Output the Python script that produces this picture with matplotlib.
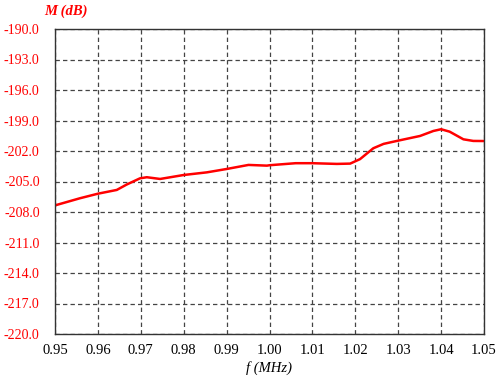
import numpy as np
import matplotlib
matplotlib.use('Agg')
import matplotlib.pyplot as plt

# values
freq = [0.9500, 0.9558, 0.9600, 0.9644, 0.9667, 0.9698, 0.9714, 0.9745, 0.9800,
        0.9854, 0.9900, 0.9951, 0.9994, 1.0000, 1.0061, 1.0100, 1.0157, 1.0188,
        1.0211, 1.0242, 1.0266, 1.0300, 1.0351, 1.0382, 1.0400, 1.0420, 1.0452,
        1.0475, 1.0500]
mag = [-207.35, -206.65, -206.2, -205.83, -205.3, -204.69, -204.58, -204.75, -204.36,
       -204.1, -203.77, -203.37, -203.44, -203.4, -203.2, -203.2, -203.27, -203.24,
       -202.8, -201.73, -201.3, -200.98, -200.52, -200.03, -199.86, -200.1, -200.85,
       -201.01, -201.02]

xticks = [0.95, 0.96, 0.97, 0.98, 0.99, 1.00, 1.01, 1.02, 1.03, 1.04, 1.05]
yticks = np.arange(-220, -189, 3)

plt.rcParams['font.family'] = ['Liberation Serif', 'DejaVu Serif']

fig = plt.figure(figsize=(5, 3.8), dpi=100)
ax = fig.add_axes([55/500, 1 - 334/380, 429/500, 305/380])

ax.plot(freq, mag, color='#ff0000', lw=1.8, solid_joinstyle='round',
        solid_capstyle='round')

ax.set_xlim(0.95, 1.05)
ax.set_ylim(-220, -190)
ax.set_xticks(xticks)
ax.set_xticklabels([f"{v:.2f}" for v in xticks], fontsize=10.5)
ax.set_yticks(yticks)
ax.set_yticklabels([f"{v:.1f}" for v in yticks], fontsize=10, color='#ff0000')
ax.tick_params(axis='x', length=0, pad=7)
ax.tick_params(axis='y', length=0, pad=11)

ax.grid(True, color='#444444', ls=(0, (3.5, 2.5)), lw=0.9)
for s in ax.spines.values():
    s.set_color('#333333')
    s.set_linewidth(1.0)

ax.set_xlabel("f (MHz)", fontsize=10.5, style='italic', labelpad=3)
fig.text(66/500, 1 - 11/380, "M (dB)", fontsize=10.5, style='italic',
         weight='bold', color='#ff0000', ha='center', va='center')

fig.savefig("out.png", dpi=100)
